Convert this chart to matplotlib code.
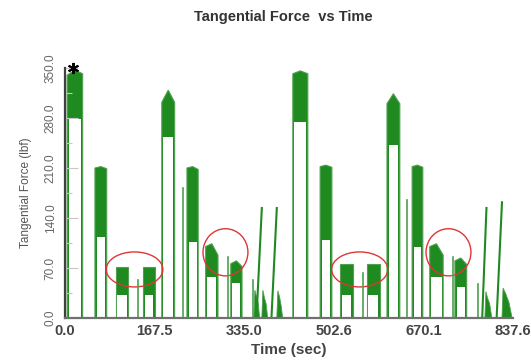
import numpy as np
import matplotlib
matplotlib.use('Agg')
import matplotlib.pyplot as plt
from matplotlib.patches import Ellipse

plt.rcParams['font.family'] = ['Liberation Sans', 'DejaVu Sans']

# plateau humps: outer start/end (sec), top at start/middle/end, bottom of the band (lbf)
hump_t0 = [4, 56, 95, 146, 181, 228, 263, 310, 426, 477, 514, 564, 602, 649, 682, 729]
hump_t1 = [33, 78, 118, 168, 205, 249, 286, 331, 454, 499, 538, 589, 626, 669, 707, 751]
hump_top_start = [340, 210, 72, 72, 302, 210, 100, 76, 342, 212, 76, 76, 300, 212, 100, 80]
hump_top_mid = [347, 212, 72, 72, 319, 212, 104, 80, 346, 214, 76, 76, 314, 214, 104, 84]
hump_top_end = [342, 209, 72, 72, 302, 208, 88, 72, 342, 211, 76, 76, 300, 211, 88, 75]
hump_low = [278, 113, 32, 32, 253, 106, 57, 49, 274, 109, 32, 32, 242, 100, 57, 44]

# thin single spikes: time (sec) and height (lbf)
spike_t = [136, 220, 305, 351, 557, 639, 725, 772]
spike_f = [53, 182, 85, 53, 63, 165, 86, 48]

# tall slanted spikes: bottom time, top time, height
slant_t_bottom = [358, 386, 780, 807]
slant_t_top = [368, 396, 788, 817]
slant_f = [154, 154, 154, 162]

# small noisy humps near the end of each cycle
small_t = [[353, 355, 358, 361, 364],
           [368, 370, 373, 376, 379],
           [396, 398, 401, 404, 407],
           [785, 787, 790, 794, 798],
           [817, 819, 824, 830, 836]]
small_f = [[0, 39, 30, 22, 0],
           [0, 39, 28, 20, 0],
           [0, 38, 30, 18, 0],
           [0, 37, 28, 20, 0],
           [0, 42, 34, 22, 0]]

# red circles around the highlighted regions (centre time, centre force, width, height)
circ_t = [130, 300, 551, 717]
circ_f = [68, 92, 68, 92]
circ_w = [106, 84, 105, 84]
circ_h = [49, 66, 49, 66]

peak_t = 15
peak_f = 350

xticks = [0.0, 167.5, 335.0, 502.6, 670.1, 837.6]
yticks = [0, 70, 140, 210, 280, 350]

green = '#1f8a1f'
light = '#4fa04f'
edge = 3.0

fig = plt.figure(figsize=(5.31, 3.61), dpi=100)
ax = fig.add_axes([0.1224, 0.1191, 0.8437, 0.6925])

for i in range(len(hump_t0)):
    t0, t1 = hump_t0[i], hump_t1[i]
    tm = (t0 + t1) / 2
    ax.fill([t0, t0, tm, t1, t1],
            [0, hump_top_start[i], hump_top_mid[i], hump_top_end[i], 0],
            color=green, lw=0.8, ec=light)
    ax.fill([t0 + edge, t0 + edge, t1 - edge, t1 - edge],
            [0, hump_low[i], hump_low[i], 0], color='white', lw=0)

for t, f in zip(spike_t, spike_f):
    ax.plot([t, t], [0, f], color=light, lw=1.2)

for tb, tt, f in zip(slant_t_bottom, slant_t_top, slant_f):
    ax.plot([tb, tt], [0, f], color=green, lw=1.5)

for ts, fs in zip(small_t, small_f):
    ax.fill(ts, fs, color=green, lw=0.6, ec=light)

for t, f, w, h in zip(circ_t, circ_f, circ_w, circ_h):
    ax.add_patch(Ellipse((t, f), w, h, fill=False, ec='#e03535', lw=1.0))

ax.plot(peak_t, peak_f, marker=(6, 2, 0), color='black', ms=8, mew=1.4, clip_on=False)

ax.set_xlim(0, 837.6)
ax.set_ylim(0, 350)
ax.set_xticks(xticks)
ax.set_xticklabels(['%.1f' % v for v in xticks], fontsize=10.5, fontweight='bold', color='#444444')
ax.set_yticks(yticks)
ax.set_yticklabels(['%.1f' % v for v in yticks], fontsize=8.5, color='#666666',
                   rotation=90, va='center')
ax.set_yticks([35, 105, 175, 245, 315], minor=True)
ax.tick_params(axis='x', length=0, pad=4)
ax.tick_params(axis='y', which='major', direction='in', length=9, width=0.8,
               color='#c8c8c8', pad=6)
ax.tick_params(axis='y', which='minor', direction='in', length=5, width=0.8,
               color='#c8c8c8')

for s in ['top', 'right']:
    ax.spines[s].set_visible(False)
ax.spines['left'].set_color('#404040')
ax.spines['left'].set_linewidth(1.6)
ax.spines['bottom'].set_color('#707070')
ax.spines['bottom'].set_linewidth(1.6)

ax.set_xlabel('Time (sec)', fontsize=11, fontweight='bold', color='#444444', labelpad=4)
ax.set_ylabel('Tangential Force (lbf)', fontsize=8.5, color='#555555', labelpad=9)
fig.text(0.533, 0.953, 'Tangential Force  vs Time', ha='center', va='center',
         fontsize=10.5, fontweight='bold', color='#333333')

plt.savefig('out.png', dpi=100)
